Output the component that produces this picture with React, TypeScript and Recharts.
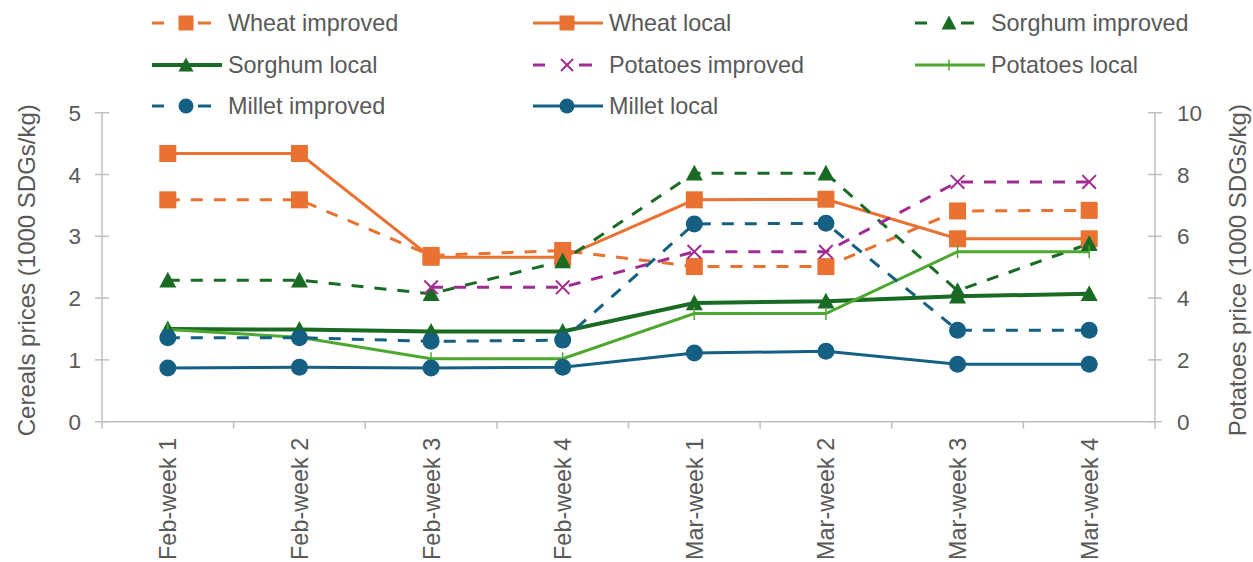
import React from 'react';
import { LineChart, Line, XAxis, YAxis } from 'recharts';

const weeks = [
  'Feb-week 1', 'Feb-week 2', 'Feb-week 3', 'Feb-week 4',
  'Mar-week 1', 'Mar-week 2', 'Mar-week 3', 'Mar-week 4',
];

// cereals, 1000 SDGs/kg (left axis)
const wheatImproved = [3.59, 3.59, 2.69, 2.77, 2.51, 2.51, 3.41, 3.42];
const wheatLocal = [4.34, 4.34, 2.66, 2.66, 3.59, 3.6, 2.96, 2.96];
const sorghumImproved = [2.29, 2.29, 2.07, 2.6, 4.02, 4.02, 2.12, 2.88];
const sorghumLocal = [1.5, 1.49, 1.46, 1.46, 1.92, 1.95, 2.03, 2.07];
const milletImproved = [1.36, 1.36, 1.3, 1.32, 3.2, 3.21, 1.48, 1.48];
const milletLocal = [0.87, 0.88, 0.87, 0.88, 1.11, 1.14, 0.93, 0.93];

// potatoes, 1000 SDGs/kg (right axis)
const potatoesImproved = [null, null, 4.35, 4.35, 5.5, 5.5, 7.76, 7.76];
const potatoesLocal = [2.98, 2.73, 2.04, 2.04, 3.5, 3.5, 5.5, 5.5];

const cerealTicks = [0, 1, 2, 3, 4, 5];
const potatoTicks = [0, 2, 4, 6, 8, 10];

const W = 1253;
const H = 562;
const PLOT_LEFT = 102;
const PLOT_RIGHT = 1155;
const PLOT_TOP = 112.7;
const PLOT_BOTTOM = 421.7;
const BAND = (PLOT_RIGHT - PLOT_LEFT) / weeks.length;

const FONT = '"Liberation Sans", Arial, sans-serif';
const TEXT = '#595959';
const AXIS = '#BFBFBF';

const ORANGE = '#E97132';
const DKGREEN = '#196B24';
const PURPLE = '#A02B93';
const LTGREEN = '#4EA72E';
const BLUE = '#156082';

type Marker = 'square' | 'triangle' | 'circle' | 'x' | 'plus';

type Series = {
  key: string;
  name: string;
  values: (number | null)[];
  color: string;
  dashed: boolean;
  marker: Marker;
  axis: 'cereal' | 'potato';
  width: number;
};

const series: Series[] = [
  { key: 'wi', name: 'Wheat improved', values: wheatImproved, color: ORANGE, dashed: true, marker: 'square', axis: 'cereal', width: 3 },
  { key: 'wl', name: 'Wheat local', values: wheatLocal, color: ORANGE, dashed: false, marker: 'square', axis: 'cereal', width: 3 },
  { key: 'si', name: 'Sorghum improved', values: sorghumImproved, color: DKGREEN, dashed: true, marker: 'triangle', axis: 'cereal', width: 3 },
  { key: 'sl', name: 'Sorghum local', values: sorghumLocal, color: DKGREEN, dashed: false, marker: 'triangle', axis: 'cereal', width: 4 },
  { key: 'pi', name: 'Potatoes improved', values: potatoesImproved, color: PURPLE, dashed: true, marker: 'x', axis: 'potato', width: 3 },
  { key: 'pl', name: 'Potatoes local', values: potatoesLocal, color: LTGREEN, dashed: false, marker: 'plus', axis: 'potato', width: 3 },
  { key: 'mi', name: 'Millet improved', values: milletImproved, color: BLUE, dashed: true, marker: 'circle', axis: 'cereal', width: 3 },
  { key: 'ml', name: 'Millet local', values: milletLocal, color: BLUE, dashed: false, marker: 'circle', axis: 'cereal', width: 3 },
];

const data = weeks.map((week, i) => {
  const row: Record<string, any> = { week };
  series.forEach((s) => {
    row[s.key] = s.values[i];
  });
  return row;
});

function MarkerShape({ kind, cx, cy, color, size = 17 }: { kind: Marker; cx: number; cy: number; color: string; size?: number }) {
  const h = size / 2;
  if (kind === 'square') {
    return <rect x={cx - h} y={cy - h} width={size} height={size} fill={color} />;
  }
  if (kind === 'circle') {
    return <circle cx={cx} cy={cy} r={h} fill={color} />;
  }
  if (kind === 'triangle') {
    return <polygon points={`${cx},${cy - h} ${cx + h},${cy + h * 0.85} ${cx - h},${cy + h * 0.85}`} fill={color} />;
  }
  if (kind === 'x') {
    const d = h * 0.8;
    return (
      <g stroke={color} strokeWidth={2}>
        <line x1={cx - d} y1={cy - d} x2={cx + d} y2={cy + d} />
        <line x1={cx - d} y1={cy + d} x2={cx + d} y2={cy - d} />
      </g>
    );
  }
  // plus: thin vertical tick across the line
  return (
    <g stroke={color} strokeWidth={1.5}>
      <line x1={cx} y1={cy - h * 0.75} x2={cx} y2={cy + h * 0.75} />
    </g>
  );
}

const dotFor = (s: Series) => (props: any) => {
  const { cx, cy, index } = props;
  if (cx == null || cy == null || s.values[index] == null) return <g key={`${s.key}-${index}`} />;
  return (
    <g key={`${s.key}-${index}`}>
      <MarkerShape kind={s.marker} cx={cx} cy={cy} color={s.color} />
    </g>
  );
};

// y ticks cross the axis line on both sides
const YTick = (side: 'left' | 'right') => (props: any) => {
  const { x, y, payload } = props;
  return (
    <g>
      <line x1={x - 7} y1={y} x2={x + 7} y2={y} stroke={AXIS} strokeWidth={1.5} />
      <text
        x={side === 'left' ? x - 21 : x + 22}
        y={y}
        dy="0.36em"
        textAnchor={side === 'left' ? 'end' : 'start'}
        fill={TEXT}
        fontSize={22.5}
        fontFamily={FONT}
      >
        {payload.value}
      </text>
    </g>
  );
};

// category labels are rotated; tick marks sit on the category boundaries
const XTick = (props: any) => {
  const { x, y, payload, index } = props;
  const last = index === weeks.length - 1;
  return (
    <g>
      <line x1={x - BAND / 2} y1={y} x2={x - BAND / 2} y2={y + 7} stroke={AXIS} strokeWidth={1.5} />
      {last ? <line x1={x + BAND / 2} y1={y} x2={x + BAND / 2} y2={y + 7} stroke={AXIS} strokeWidth={1.5} /> : null}
      <text
        transform={`translate(${x},${y + 16}) rotate(-90)`}
        dy="0.36em"
        textAnchor="end"
        fill={TEXT}
        fontSize={23.4}
        fontFamily={FONT}
      >
        {payload.value}
      </text>
    </g>
  );
};

const axisTitle = (text: string, dx: (vb: any) => number) => (props: any) => {
  const vb = props.viewBox;
  const cx = dx(vb);
  const cy = vb.y + vb.height / 2 + 3;
  return (
    <text
      transform={`translate(${cx},${cy}) rotate(-90)`}
      textAnchor="middle"
      dy="0.36em"
      fill={TEXT}
      fontSize={24}
      fontFamily={FONT}
    >
      {text}
    </text>
  );
};

const legendCols = [152, 533, 915];
const legendRows = [23, 65, 106];

function LegendIcon({ s, x, y }: { s: Series; x: number; y: number }) {
  return (
    <g>
      {s.dashed ? (
        <g stroke={s.color} strokeWidth={s.width}>
          <line x1={x} y1={y} x2={x + 12} y2={y} />
          <line x1={x + 46} y1={y} x2={x + 59} y2={y} />
        </g>
      ) : (
        <line x1={x} y1={y} x2={x + 70} y2={y} stroke={s.color} strokeWidth={s.width} />
      )}
      <MarkerShape kind={s.marker} cx={x + 34} cy={y} color={s.color} size={15} />
    </g>
  );
}

function ChartLegend() {
  return (
    <svg width={W} height={125} style={{ position: 'absolute', left: 0, top: 0, pointerEvents: 'none' }}>
      {series.map((s, i) => {
        const x = legendCols[i % 3];
        const y = legendRows[Math.floor(i / 3)];
        return (
          <g key={s.key}>
            <LegendIcon s={s} x={x} y={y} />
            <text x={x + 76} y={y} dy="0.36em" fill={TEXT} fontSize={23.4} fontFamily={FONT}>
              {s.name}
            </text>
          </g>
        );
      })}
    </svg>
  );
}

export default function App() {
  return (
    <div style={{ position: 'absolute', left: 0, top: 0, width: W, height: H, background: '#fff' }}>
      <LineChart
        width={W}
        height={H}
        data={data}
        margin={{ top: PLOT_TOP, right: 0, bottom: 0, left: 0 }}
      >
        <XAxis
          dataKey="week"
          xAxisId="x"
          height={H - PLOT_BOTTOM}
          interval={0}
          padding={{ left: BAND / 2, right: BAND / 2 }}
          tickSize={0}
          tickMargin={0}
          tickLine={false}
          axisLine={{ stroke: AXIS, strokeWidth: 1.5 }}
          tick={XTick}
        />
        <YAxis
          yAxisId="cereal"
          orientation="left"
          width={PLOT_LEFT}
          domain={[0, 5]}
          ticks={cerealTicks}
          interval={0}
          tickSize={0}
          tickMargin={0}
          tickLine={false}
          axisLine={{ stroke: AXIS, strokeWidth: 1.5 }}
          tick={YTick('left')}
          label={{ content: axisTitle('Cereals prices (1000 SDGs/kg)', (vb) => vb.x + 26) }}
        />
        <YAxis
          yAxisId="potato"
          orientation="right"
          width={W - PLOT_RIGHT}
          domain={[0, 10]}
          ticks={potatoTicks}
          interval={0}
          tickSize={0}
          tickMargin={0}
          tickLine={false}
          axisLine={{ stroke: AXIS, strokeWidth: 1.5 }}
          tick={YTick('right')}
          label={{ content: axisTitle('Potatoes price (1000 SDGs/kg)', (vb) => vb.x + vb.width - 16) }}
        />
        {series.map((s) => (
          <Line
            key={s.key}
            xAxisId="x"
            yAxisId={s.axis}
            dataKey={s.key}
            name={s.name}
            type="linear"
            stroke={s.color}
            strokeWidth={s.width}
            strokeDasharray={s.dashed ? '12 11' : undefined}
            dot={dotFor(s)}
            activeDot={false}
            isAnimationActive={false}
          />
        ))}
      </LineChart>
      <ChartLegend />
    </div>
  );
}
